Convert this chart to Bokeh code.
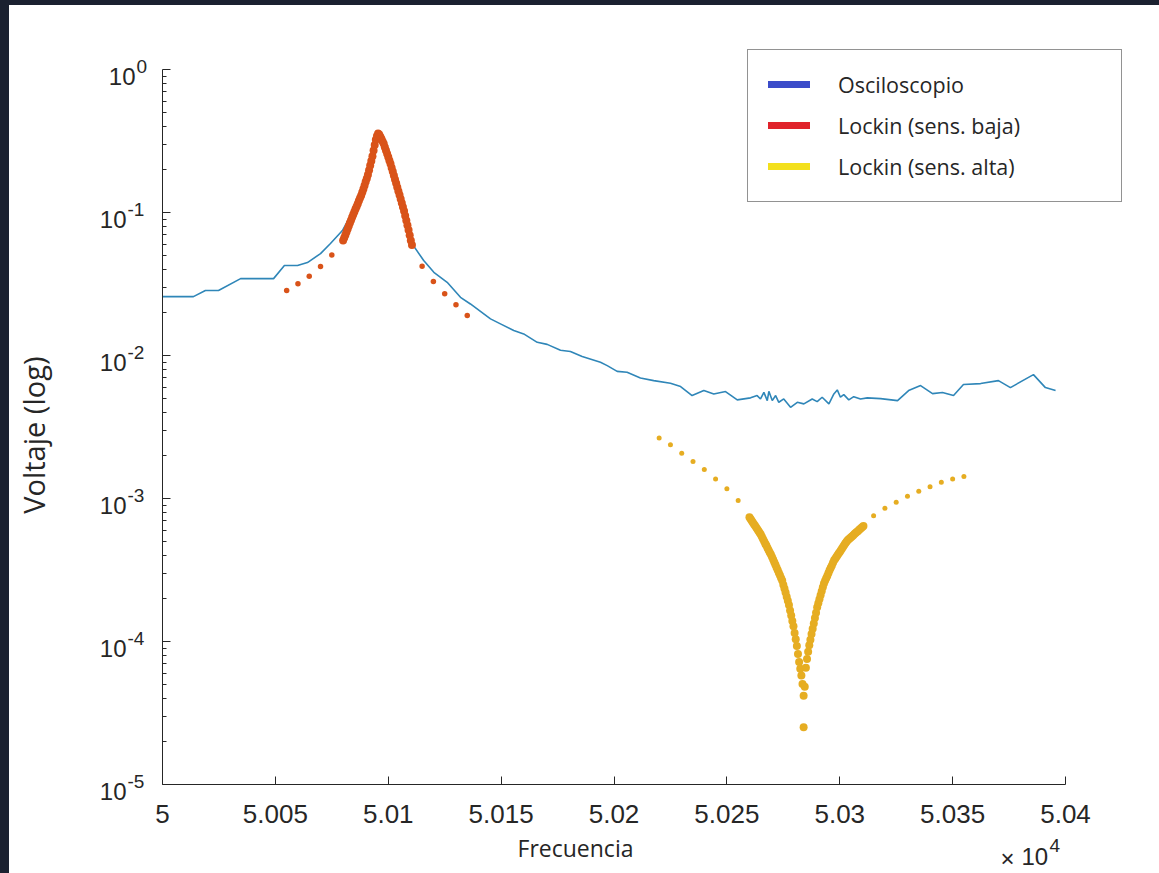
from bokeh.plotting import figure
from bokeh.models import (Range1d, FixedTicker, CustomJSTickFormatter, Legend,
                          LegendItem, Label, Spacer)
from bokeh.layouts import row, column
from bokeh.embed import file_html
from bokeh.resources import INLINE

# ---------------------------------------------------------------- data
# Oscilloscope amplitude (V) vs frequency (Hz)
osc_f = [50000.0, 50013.7, 50019.0, 50024.8, 50034.6, 50049.2, 50054.0, 50059.8, 50064.2, 50070.0,
         50074.4, 50079.7, 50083.3, 50087.7, 50092.1, 50095.2, 50099.2, 50103.7, 50108.4, 50110.6,
         50115.7, 50120.2, 50126.1, 50132.0, 50136.4, 50145.3, 50149.7, 50155.6, 50160.0, 50166.0,
         50170.4, 50176.3, 50180.7, 50185.9, 50194.0, 50197.0, 50201.4, 50205.8, 50211.7, 50217.6,
         50225.0, 50229.5, 50234.6, 50239.8, 50244.2, 50249.4, 50254.6, 50260.5, 50263.4, 50264.9,
         50266.4, 50267.9, 50268.6, 50270.1, 50271.6, 50273.0, 50275.2, 50278.2, 50281.2, 50284.1,
         50287.8, 50290.0, 50292.2, 50295.2, 50297.4, 50298.9, 50300.3, 50301.8, 50304.0, 50306.2,
         50309.2, 50312.2, 50318.1, 50325.6, 50330.5, 50335.8, 50341.1, 50345.5, 50350.4, 50354.8,
         50362.4, 50370.3, 50375.6, 50385.8, 50391.1, 50395.6]
osc_v = [0.0259, 0.0259, 0.0286, 0.0286, 0.0346, 0.0346, 0.0427, 0.0427, 0.0448, 0.0518,
         0.0609, 0.0751, 0.0956, 0.129, 0.217, 0.350, 0.267, 0.157, 0.0792, 0.0606,
         0.0463, 0.0383, 0.0326, 0.0256, 0.0230, 0.0181, 0.0167, 0.0150, 0.0142, 0.0124,
         0.0120, 0.0109, 0.0107, 0.00986, 0.00899, 0.00852, 0.00777, 0.00765, 0.00699, 0.00669,
         0.00641, 0.00608, 0.00526, 0.00570, 0.00540, 0.00561, 0.00491, 0.00507, 0.00526, 0.00498,
         0.00554, 0.00485, 0.00563, 0.00485, 0.00526, 0.00472, 0.00498, 0.00435, 0.00472, 0.00460,
         0.00498, 0.00477, 0.00512, 0.00460, 0.00540, 0.00576, 0.00512, 0.00534, 0.00491, 0.00517,
         0.00498, 0.00507, 0.00501, 0.00485, 0.00570, 0.00618, 0.00543, 0.00552, 0.00526, 0.00628,
         0.00638, 0.00669, 0.00598, 0.00737, 0.00598, 0.00570]

# Lock-in, low sensitivity: coarse sweep (5 Hz) and fine sweep (0.5 Hz) around the resonance
baja_coarse_f = [50055, 50060, 50065, 50070, 50075, 50115, 50120, 50125, 50130, 50135]
baja_coarse_v = [0.0286, 0.0318, 0.0359, 0.0420, 0.0507, 0.0422, 0.0330, 0.0271, 0.0227, 0.0191]
baja_fine_f = [50080.0, 50080.5, 50081.0, 50081.5, 50082.0, 50082.5, 50083.0, 50083.5, 50084.0, 50084.5,
               50085.0, 50085.5, 50086.0, 50086.5, 50087.0, 50087.5, 50088.0, 50088.5, 50089.0, 50089.5,
               50090.0, 50090.5, 50091.0, 50091.5, 50092.0, 50092.5, 50093.0, 50093.5, 50094.0, 50094.5,
               50095.0, 50095.5, 50096.0, 50096.5, 50097.0, 50097.5, 50098.0, 50098.5, 50099.0, 50099.5,
               50100.0, 50100.5, 50101.0, 50101.5, 50102.0, 50102.5, 50103.0, 50103.5, 50104.0, 50104.5,
               50105.0, 50105.5, 50106.0, 50106.5, 50107.0, 50107.5, 50108.0, 50108.5, 50109.0, 50109.5,
               50110.0, 50110.5]
baja_fine_v = [0.0639, 0.0668, 0.0700, 0.0734, 0.0770, 0.0807, 0.0846, 0.0887, 0.0930, 0.0971,
               0.1015, 0.1060, 0.1107, 0.1158, 0.1212, 0.1266, 0.1322, 0.1390, 0.1465, 0.1550,
               0.1645, 0.1735, 0.1842, 0.1980, 0.2139, 0.2304, 0.2489, 0.2724, 0.2981, 0.3242,
               0.3436, 0.3583, 0.3526, 0.3403, 0.3279, 0.3155, 0.3035, 0.2873, 0.2724, 0.2587,
               0.2453, 0.2323, 0.2198, 0.2064, 0.1942, 0.1821, 0.1708, 0.1606, 0.1508, 0.1416,
               0.1330, 0.1247, 0.1169, 0.1096, 0.1028, 0.0953, 0.0882, 0.0818, 0.0756, 0.0696,
               0.0639, 0.0594]

# Lock-in, high sensitivity: coarse sweep and fine sweep around the antiresonance
alta_coarse_f = [50220, 50225, 50230, 50235, 50240, 50245, 50250, 50255,
                 50315, 50320, 50325, 50330, 50335, 50340, 50345, 50350, 50355]
alta_coarse_v = [2.66e-3, 2.38e-3, 2.08e-3, 1.82e-3, 1.60e-3, 1.37e-3, 1.17e-3, 9.7e-4,
                 7.6e-4, 8.55e-4, 9.42e-4, 1.04e-3, 1.125e-3, 1.21e-3, 1.30e-3, 1.37e-3, 1.43e-3]
alta_fine_f = [50260.0, 50260.5, 50261.0, 50261.5, 50262.0, 50262.5, 50263.0, 50263.5, 50264.0, 50264.5,
               50265.0, 50265.5, 50266.0, 50266.5, 50267.0, 50267.5, 50268.0, 50268.5, 50269.0, 50269.5,
               50270.0, 50270.5, 50271.0, 50271.5, 50272.0, 50272.5, 50273.0, 50273.5, 50274.0, 50274.5,
               50275.0, 50275.5, 50276.0, 50276.5, 50277.0, 50277.5, 50278.0, 50278.5, 50279.0, 50279.5,
               50280.0, 50280.5, 50281.0, 50281.5, 50282.0, 50282.5, 50283.0, 50283.5, 50284.0, 50284.0,
               50284.5, 50285.0, 50285.5, 50286.0, 50286.5, 50287.0, 50287.5, 50288.0, 50288.5, 50289.0,
               50289.5, 50290.0, 50290.5, 50291.0, 50291.5, 50292.0, 50292.5, 50293.0, 50293.5, 50294.0,
               50294.5, 50295.0, 50295.5, 50296.0, 50296.5, 50297.0, 50297.5, 50298.0, 50298.5, 50299.0,
               50299.5, 50300.0, 50300.5, 50301.0, 50301.5, 50302.0, 50302.5, 50303.0, 50303.5, 50304.0,
               50304.5, 50305.0, 50305.5, 50306.0, 50306.5, 50307.0, 50307.5, 50308.0, 50308.5, 50309.0,
               50309.5, 50310.0, 50310.5]
alta_fine_v = [7.40e-4, 7.20e-4, 7.00e-4, 6.82e-4, 6.63e-4, 6.45e-4, 6.28e-4, 6.11e-4, 5.94e-4, 5.78e-4,
               5.62e-4, 5.42e-4, 5.22e-4, 5.04e-4, 4.86e-4, 4.69e-4, 4.52e-4, 4.36e-4, 4.20e-4, 4.06e-4,
               3.91e-4, 3.75e-4, 3.59e-4, 3.45e-4, 3.30e-4, 3.17e-4, 3.03e-4, 2.91e-4, 2.78e-4, 2.67e-4,
               2.50e-4, 2.35e-4, 2.20e-4, 2.06e-4, 1.93e-4, 1.80e-4, 1.65e-4, 1.52e-4, 1.39e-4, 1.28e-4,
               1.15e-4, 1.04e-4, 9.30e-5, 8.19e-5, 7.20e-5, 6.46e-5, 5.80e-5, 5.05e-5, 4.18e-5, 2.51e-5,
               4.83e-5, 6.57e-5, 7.55e-5, 8.50e-5, 9.44e-5, 1.03e-4, 1.13e-4, 1.23e-4, 1.34e-4, 1.46e-4,
               1.59e-4, 1.74e-4, 1.85e-4, 1.98e-4, 2.11e-4, 2.25e-4, 2.40e-4, 2.55e-4, 2.66e-4, 2.77e-4,
               2.89e-4, 3.02e-4, 3.15e-4, 3.28e-4, 3.41e-4, 3.56e-4, 3.70e-4, 3.80e-4, 3.91e-4, 4.02e-4,
               4.13e-4, 4.24e-4, 4.36e-4, 4.48e-4, 4.61e-4, 4.74e-4, 4.87e-4, 5.00e-4, 5.12e-4, 5.20e-4,
               5.28e-4, 5.37e-4, 5.46e-4, 5.55e-4, 5.65e-4, 5.74e-4, 5.83e-4, 5.92e-4, 6.02e-4, 6.12e-4,
               6.23e-4, 6.33e-4, 6.43e-4]

x_ticks = [50000, 50050, 50100, 50150, 50200, 50250, 50300, 50350, 50400]
x_tick_labels = ["5", "5.005", "5.01", "5.015", "5.02", "5.025", "5.03", "5.035", "5.04"]
y_tick_exponents = [0, -1, -2, -3, -4, -5]
legend_labels = ["Osciloscopio", "Lockin (sens. baja)", "Lockin (sens. alta)"]

# ---------------------------------------------------------------- geometry (page pixels)
FIG_W, FIG_H = 1150, 868          # figure size; page offset (9, 5) from the dark edge strips
OFF_X, OFF_Y = 9, 5
AX_LEFT, AX_RIGHT = 162, 1065      # where the x axis starts / ends
AX_TOP, AX_BOTTOM = 69.3, 784      # where the y axis starts / ends
FRAME_RIGHT, FRAME_TOP = 1134, 30  # drawing area spans the page so text can sit around the axes

x_lo, x_hi = x_ticks[0], x_ticks[-1]
hz_per_px = (x_hi - x_lo) / (AX_RIGHT - AX_LEFT)
decade_px = (AX_BOTTOM - AX_TOP) / (y_tick_exponents[0] - y_tick_exponents[-1])
x_range = Range1d(x_lo - (AX_LEFT - OFF_X) * hz_per_px, x_hi + (FRAME_RIGHT - AX_RIGHT) * hz_per_px)
y_range = Range1d(10.0 ** (y_tick_exponents[-1] - (OFF_Y + FIG_H - AX_BOTTOM) / decade_px),
                  10.0 ** (y_tick_exponents[0] + (AX_TOP - FRAME_TOP) / decade_px))

# ---------------------------------------------------------------- style
INK = "#262626"
TICK_FONT = "Liberation Sans"
TEXT_FONT = "Open Sans"
OSC_COLOR = "#2f86b8"
BAJA_COLOR = "#d95319"
ALTA_COLOR = "#e6ad22"
SWATCH_COLORS = ["#3b4cc9", "#e0232b", "#f3e01c"]

p = figure(width=FIG_W, height=FIG_H, x_range=x_range, y_range=y_range,
           y_axis_type="log", x_axis_location="above", y_axis_location="right",
           output_backend="svg", toolbar_location=None,
           min_border_left=0, min_border_bottom=0,
           min_border_right=OFF_X + FIG_W - FRAME_RIGHT, min_border_top=FRAME_TOP - OFF_Y)
p.outline_line_color = None
p.grid.visible = False
p.background_fill_color = "white"
p.border_fill_color = "white"

# ---------------------------------------------------------------- series
p.line(osc_f, osc_v, line_color=OSC_COLOR, line_width=1.6)
p.scatter(baja_coarse_f, baja_coarse_v, marker="circle", size=5.5,
          fill_color=BAJA_COLOR, line_color=None)
p.scatter(baja_fine_f, baja_fine_v, marker="circle", size=8,
          fill_color=BAJA_COLOR, line_color=None)
p.scatter(alta_coarse_f, alta_coarse_v, marker="circle", size=5,
          fill_color=ALTA_COLOR, line_color=None)
p.scatter(alta_fine_f, alta_fine_v, marker="circle", size=8,
          fill_color=ALTA_COLOR, line_color=None)

# ---------------------------------------------------------------- axes (pinned to the data corner)
blank = CustomJSTickFormatter(code="return ''")

xa = p.xaxis[0]
xa.fixed_location = 10.0 ** y_tick_exponents[-1]
xa.bounds = (x_lo, x_hi)
xa.ticker = FixedTicker(ticks=x_ticks)
xa.formatter = blank
xa.major_label_text_font_size = "1px"
xa.major_label_standoff = 0
xa.major_tick_in = 0
xa.major_tick_out = 8
xa.minor_tick_line_color = None
xa.axis_line_color = INK
xa.major_tick_line_color = INK

ya = p.yaxis[0]
ya.fixed_location = x_lo
ya.bounds = (10.0 ** y_tick_exponents[-1], 10.0 ** y_tick_exponents[0])
ya.ticker = FixedTicker(ticks=[10.0 ** e for e in y_tick_exponents],
                        minor_ticks=[m * 10.0 ** e for e in range(-5, 0) for m in range(2, 10)])
ya.formatter = blank
ya.major_label_text_font_size = "1px"
ya.major_label_standoff = 0
ya.major_tick_in = 0
ya.major_tick_out = 8
ya.minor_tick_in = 0
ya.minor_tick_out = 4
ya.axis_line_color = INK
ya.major_tick_line_color = INK
ya.minor_tick_line_color = INK

y_floor = 10.0 ** y_tick_exponents[-1]

# x tick labels
for t, lab in zip(x_ticks, x_tick_labels):
    p.add_layout(Label(x=t, y=y_floor, text=lab, y_offset=-29,
                       text_align="center", text_baseline="middle",
                       text_font=TICK_FONT, text_font_size="26px", text_color=INK))

# decade labels written as 10 with a raised exponent
for e in y_tick_exponents:
    shift = -27 if e == 0 else -36
    p.add_layout(Label(x=x_lo, y=10.0 ** e, text="10", x_offset=shift, y_offset=-7,
                       text_align="right", text_baseline="middle",
                       text_font=TICK_FONT, text_font_size="24px", text_color=INK))
    p.add_layout(Label(x=x_lo, y=10.0 ** e, text=str(e), x_offset=shift + 1, y_offset=3,
                       text_align="left", text_baseline="middle",
                       text_font=TICK_FONT, text_font_size="19px", text_color=INK))

# axis titles
p.add_layout(Label(x=x_lo, y=y_floor, text="Frecuencia", x_offset=413, y_offset=-63,
                   text_align="center", text_baseline="middle",
                   text_font=TEXT_FONT, text_font_size="23px", text_color=INK))
p.add_layout(Label(x=x_lo, y=10.0 ** -2.5, text="Voltaje (log)", x_offset=-129, y_offset=-8,
                   angle=90, angle_units="deg", text_align="center", text_baseline="middle",
                   text_font=TEXT_FONT, text_font_size="29px", text_color=INK))

# axis multiplier, bottom right
p.add_layout(Label(x=x_hi, y=y_floor, text="×", x_offset=-58, y_offset=-74,
                   text_align="center", text_baseline="middle",
                   text_font=TICK_FONT, text_font_size="24px", text_color=INK))
p.add_layout(Label(x=x_hi, y=y_floor, text="10", x_offset=-44, y_offset=-72,
                   text_align="left", text_baseline="middle",
                   text_font=TICK_FONT, text_font_size="24px", text_color=INK))
p.add_layout(Label(x=x_hi, y=y_floor, text="4", x_offset=-16, y_offset=-61,
                   text_align="left", text_baseline="middle",
                   text_font=TICK_FONT, text_font_size="19px", text_color=INK))

# ---------------------------------------------------------------- legend
nan = float("nan")
swatches = [p.line([nan], [nan], line_color=c, line_width=7, line_cap="round")
            for c in SWATCH_COLORS]
legend = Legend(items=[LegendItem(label=lab, renderers=[r]) for lab, r in zip(legend_labels, swatches)],
                location=(747 - OFF_X, OFF_Y + FIG_H - 201.7), margin=0, padding=20, spacing=12,
                glyph_width=42, glyph_height=24, label_height=24, label_width=263,
                label_standoff=28,
                label_text_font=TEXT_FONT, label_text_font_size="21.5px", label_text_color=INK,
                border_line_color=INK, border_line_width=1.2,
                background_fill_color="white", background_fill_alpha=1.0)
p.add_layout(legend, "center")

# ---------------------------------------------------------------- page frame
EDGE = "#1b2130"
left_strip = Spacer(width=OFF_X, height=OFF_Y + FIG_H, styles={"background-color": EDGE})
top_strip = Spacer(width=FIG_W, height=OFF_Y, styles={"background-color": EDGE})
page = row(left_strip, column(top_strip, p))

open("out.html", "w").write(file_html(page, INLINE))
